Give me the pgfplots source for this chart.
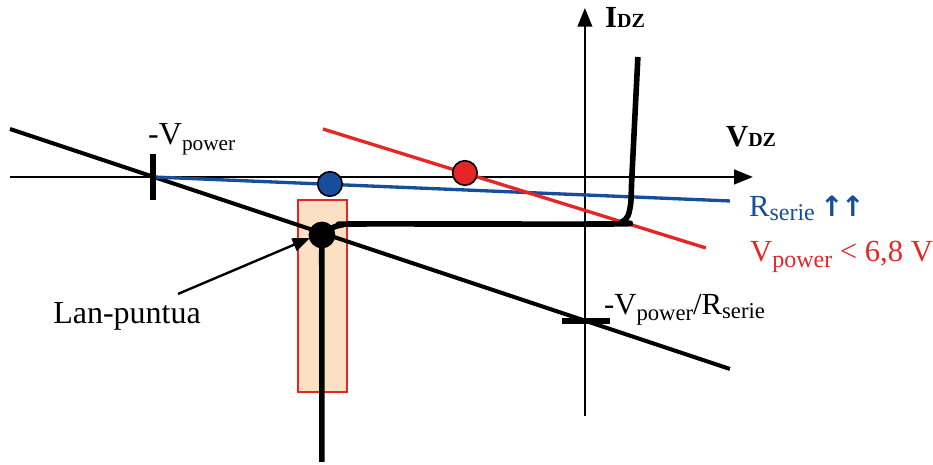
\documentclass[border=0pt]{standalone}
\usepackage{fontspec}
\setmainfont{Liberation Serif}
\newfontfamily\symfont{DejaVu Sans}
\usepackage{pgfplots}
\pgfplotsset{compat=1.18}
\usetikzlibrary{arrows.meta}
\definecolor{myblue}{RGB}{22,78,155}
\definecolor{myred}{RGB}{228,38,38}
\definecolor{peach}{RGB}{251,224,195}
\begin{document}
\begin{tikzpicture}
\begin{axis}[
  scale only axis, width=699.75pt, height=348.75pt,
  xmin=0, xmax=933, ymin=0, ymax=465, y dir=reverse,
  hide axis, clip=false,
]
\path (axis cs:0,0) rectangle (axis cs:933,465);
% axes
\addplot[line width=1.5pt, -{Triangle[length=14pt,width=11pt]}] coordinates {(10,177) (753,177)};
\addplot[line width=1.5pt, -{Triangle[length=14pt,width=11pt]}] coordinates {(585,416) (585,8)};
% peach rectangle
\addplot[fill=peach, draw=myred, line width=1.2pt] coordinates {(298,200) (347,200) (347,392) (298,392)} -- cycle;
% load line
\addplot[line width=3pt, black] coordinates {(10,129) (730,369)};
% blue line
\addplot[line width=2.5pt, myblue] coordinates {(153,177) (730,201)};
% red line
\addplot[line width=2.5pt, myred] coordinates {(323,129) (706,248)};
% ticks
\addplot[line width=4.5pt, black] coordinates {(153,154) (153,200)};
\addplot[line width=5pt, black] coordinates {(562,321) (610,321)};
% diode curve
\addplot[line width=4.2pt, black, line join=round, smooth, tension=0.5] coordinates {
 (322,462) (322,300) (322,245) (325,234) (332,228) (342,225) (360,224) (612,224) (622,222) (628,216) (631,202) (632,177) (638,57)};
% arrow to operating point
\addplot[line width=1.8pt, black, -{Triangle[length=13pt,width=10pt]}] coordinates {(178,294) (310,238)};
% points
\addplot[only marks, mark=*, mark size=9.2pt, mark options={fill=myblue, draw=black, line width=1.2pt}] coordinates {(330,184)};
\addplot[only marks, mark=*, mark size=9.2pt, mark options={fill=myred, draw=black, line width=1.2pt}] coordinates {(465,173)};
\addplot[only marks, mark=*, mark size=9.8pt, mark options={fill=black, draw=black}] coordinates {(322,235)};
% labels
\node[anchor=base west, inner sep=0pt] at (axis cs:605,27) {\fontsize{23}{26}\selectfont\bfseries I\fontsize{15}{18}\selectfont DZ};
\node[anchor=base west, inner sep=0pt] at (axis cs:726,147) {\fontsize{23}{26}\selectfont\bfseries V\fontsize{15}{18}\selectfont DZ};
\node[anchor=base west, inner sep=0pt] at (axis cs:148,145) {\fontsize{24}{28}\selectfont -V\raisebox{-4pt}{\fontsize{16}{18}\selectfont power}};
\node[anchor=base west, inner sep=0pt] at (axis cs:53,324) {\fontsize{24}{28}\selectfont Lan-puntua};
\node[anchor=base west, inner sep=0pt, text=myblue] at (axis cs:749,217) {\fontsize{23}{26}\selectfont R\raisebox{-3pt}{\fontsize{18}{20}\selectfont serie}\hspace{4pt}{\symfont\bfseries\fontsize{21}{24}\selectfont ↑\kern-2pt↑}};
\node[anchor=base west, inner sep=0pt, text=myred] at (axis cs:750,262) {\fontsize{23}{26}\selectfont V\raisebox{-4pt}{\fontsize{18}{20}\selectfont power}\ < 6,8 V};
\node[anchor=base west, inner sep=0pt] at (axis cs:604,315) {\fontsize{23}{26}\selectfont -V\raisebox{-4pt}{\fontsize{17}{20}\selectfont power}/R\raisebox{-3pt}{\fontsize{17}{20}\selectfont serie}};
\end{axis}
\end{tikzpicture}
\end{document}
